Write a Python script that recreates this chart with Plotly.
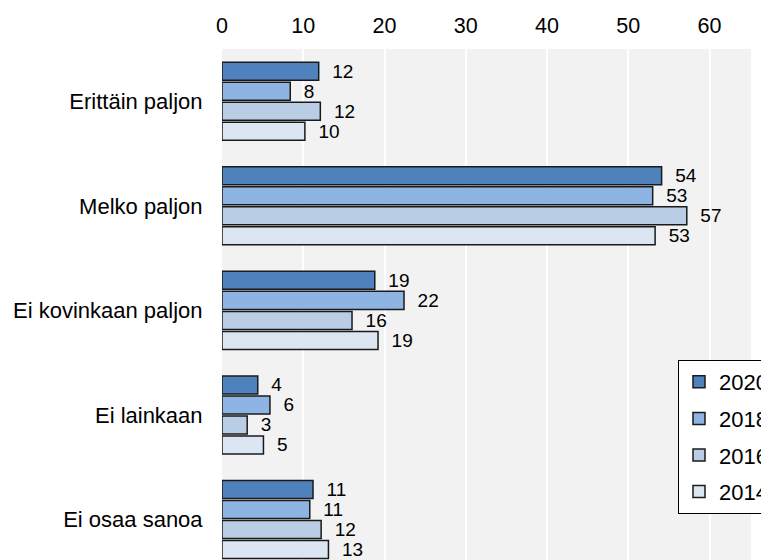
import plotly.graph_objects as go

categories = ["Erittäin paljon", "Melko paljon", "Ei kovinkaan paljon", "Ei lainkaan", "Ei osaa sanoa"]
years = ["2020", "2018", "2016", "2014"]
v2020 = [11.9, 54.1, 18.8, 4.4, 11.2]
v2018 = [8.4, 53.0, 22.4, 5.9, 10.8]
v2016 = [12.1, 57.2, 16.0, 3.1, 12.2]
v2014 = [10.2, 53.3, 19.2, 5.1, 13.1]
series = [v2020, v2018, v2016, v2014]
colors = ["#4f81bd", "#8db4e2", "#b9cde5", "#dce6f2"]
x_ticks = [0, 10, 20, 30, 40, 50, 60]

FONT = "Liberation Sans, Arial, sans-serif"

fig = go.Figure()
for yr, vals, col in zip(years, series, colors):
    fig.add_trace(go.Bar(
        y=categories, x=vals, name=yr, orientation="h", legendgroup=yr,
        marker=dict(color=col, line=dict(color="#1a1a1a", width=1.5)),
        text=vals, texttemplate="  %{x:.0f}", textposition="outside",
        textfont=dict(family=FONT, size=19, color="#000000"),
        constraintext="none", cliponaxis=False,
    ))

fig.update_layout(
    width=769, height=560,
    margin=dict(l=214, r=26, t=41, b=0, pad=0, autoexpand=False),
    paper_bgcolor="white", plot_bgcolor="#f2f2f2",
    barmode="group", bargap=0.234, bargroupgap=0.1,
    font=dict(family=FONT, size=22, color="#000000"),
    legend=dict(
        x=0.862, y=0.104, xanchor="left", yanchor="bottom",
        bgcolor="white", bordercolor="#000000", borderwidth=1,
        font=dict(family=FONT, size=22), traceorder="grouped",
        tracegroupgap=5,
    ),
    xaxis=dict(
        side="top", range=[0, 65.1], tickvals=x_ticks,
        showgrid=True, gridcolor="white", gridwidth=1.5,
        zeroline=False, showline=False,
        ticks="outside", ticklen=6, tickcolor="rgba(0,0,0,0)",
        tickfont=dict(family=FONT, size=21.5),
    ),
    yaxis=dict(
        categoryorder="array", categoryarray=categories,
        range=[4.464, -0.5], showgrid=False, zeroline=False, showline=False,
        ticks="outside", ticklen=14, tickcolor="rgba(0,0,0,0)",
        tickfont=dict(family=FONT, size=22),
    ),
)

fig.write_html("out.html")
